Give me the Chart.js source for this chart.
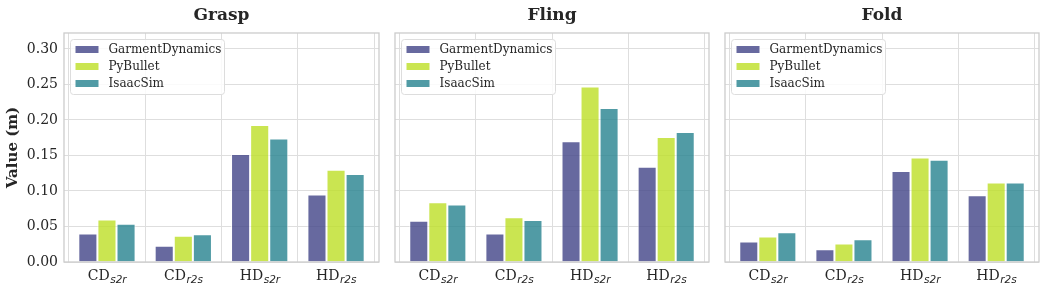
<!DOCTYPE html>
<html lang="en">
<head>
    <meta charset="UTF-8">
    <title>Simulator gap per task</title>
    <script src="https://cdn.jsdelivr.net/npm/chart.js"></script>
    <style>
        body { margin: 0; background: white; }
        #wrap { position: relative; width: 1046px; height: 289px; }
        .panel { position: absolute; top: 0; height: 289px; }
        .title {
            position: absolute;
            top: 4px;
            line-height: 20px;
            font: bold 17px "DejaVu Serif";
            color: #262626;
            transform: translateX(-50%);
            white-space: nowrap;
        }
    </style>
</head>
<body>
<div id="wrap">
    <div class="panel" style="left:0;width:384px"><canvas id="c0"></canvas></div>
    <div class="panel" style="left:390px;width:324px"><canvas id="c1"></canvas></div>
    <div class="panel" style="left:720px;width:326px"><canvas id="c2"></canvas></div>
    <div class="title" id="t0" style="left:221.5px"></div>
    <div class="title" id="t1" style="left:552px"></div>
    <div class="title" id="t2" style="left:882px"></div>
</div>

<script>
    // categories: metric + subscript
    const metrics = ['CD', 'CD', 'HD', 'HD'];
    const subs = ['s2r', 'r2s', 's2r', 'r2s'];
    const tasks = ['Grasp', 'Fling', 'Fold'];
    const simulators = ['GarmentDynamics', 'PyBullet', 'IsaacSim'];

    // values (m)
    const graspGD = [0.040, 0.023, 0.152, 0.095];
    const graspPB = [0.060, 0.037, 0.193, 0.130];
    const graspIS = [0.054, 0.039, 0.174, 0.124];

    const flingGD = [0.058, 0.040, 0.170, 0.134];
    const flingPB = [0.084, 0.063, 0.247, 0.176];
    const flingIS = [0.081, 0.059, 0.217, 0.183];

    const foldGD = [0.029, 0.018, 0.128, 0.094];
    const foldPB = [0.036, 0.026, 0.147, 0.112];
    const foldIS = [0.042, 0.032, 0.144, 0.112];

    const yTicks = [0, 0.05, 0.10, 0.15, 0.20, 0.25, 0.30];

    const colors = ['rgba(65, 68, 135, 0.8)', 'rgba(189, 223, 38, 0.8)', 'rgba(38, 130, 142, 0.8)'];
    const gridColor = '#dedede';
    const frameColor = '#cccccc';
    const textColor = '#262626';

    // frame, legend box and subscripted category labels
    const decorations = {
        id: 'decorations',
        afterDatasetsDraw(chart) {
            const ctx = chart.ctx;
            const area = chart.chartArea;
            ctx.save();
            // legend
            const lx = area.left + 6.5, ly = area.top + 6.5, lw = 154, lh = 55;
            ctx.beginPath();
            ctx.roundRect(lx, ly, lw, lh, 3);
            ctx.fillStyle = 'rgba(255,255,255,0.85)';
            ctx.fill();
            ctx.strokeStyle = '#dddddd';
            ctx.lineWidth = 1;
            ctx.stroke();
            ctx.font = '12px "DejaVu Serif"';
            ctx.textBaseline = 'middle';
            chart.data.datasets.forEach((ds, i) => {
                const cy = ly + 10 + i * 17;
                ctx.fillStyle = ds.backgroundColor;
                ctx.fillRect(lx + 5, cy - 3.5, 23, 7);
                ctx.fillStyle = textColor;
                ctx.fillText(ds.label, lx + 38, cy);
            });
            // frame
            ctx.strokeStyle = frameColor;
            ctx.lineWidth = 1.3;
            ctx.strokeRect(area.left, area.top, area.right - area.left, area.bottom - area.top);
            // x labels
            const xs = chart.scales.x;
            ctx.textBaseline = 'alphabetic';
            ctx.fillStyle = textColor;
            metrics.forEach((m, i) => {
                const x = xs.getPixelForValue(i);
                ctx.font = '14px "DejaVu Serif"';
                const wm = ctx.measureText(m).width;
                ctx.font = 'oblique 10.5px "DejaVu Sans"';
                const ws = ctx.measureText(subs[i]).width;
                const x0 = x - (wm + ws) / 2;
                ctx.font = '14px "DejaVu Serif"';
                ctx.textAlign = 'left';
                ctx.fillText(m, x0, area.bottom + 18);
                ctx.font = 'oblique 10.5px "DejaVu Sans"';
                ctx.fillText(subs[i], x0 + wm + 0.5, area.bottom + 21);
            });
            ctx.restore();
        }
    };

    function makePanel(id, values, first, rightPad) {
        const datasets = simulators.map((name, k) => ({
            label: name,
            data: values[k].map((v, i) => ({ x: i, y: v })),
            backgroundColor: colors[k],
            borderColor: 'rgba(255,255,255,0.75)',
            borderWidth: 1,
            borderSkipped: 'bottom'
        }));
        return new Chart(document.getElementById(id), {
            type: 'bar',
            data: { datasets: datasets },
            plugins: [decorations],
            options: {
                responsive: true,
                maintainAspectRatio: false,
                animation: false,
                layout: { padding: { top: 33, right: rightPad, bottom: 0, left: 0 } },
                categoryPercentage: 0.75,
                barPercentage: 1.0,
                plugins: { legend: { display: false }, tooltip: { enabled: false } },
                scales: {
                    x: {
                        type: 'linear',
                        min: -0.5625,
                        max: 3.5625,
                        offset: false,
                        ticks: { display: false, stepSize: 1 },
                        afterBuildTicks: s => { s.ticks = metrics.map((m, i) => ({ value: i })); },
                        afterFit: s => { s.height = 27; },
                        grid: { color: gridColor, drawTicks: false, lineWidth: 1 },
                        border: { display: false }
                    },
                    y: {
                        min: 0,
                        max: 0.3225,
                        ticks: {
                            display: first,
                            padding: 6,
                            color: textColor,
                            font: { family: 'DejaVu Serif', size: 14 },
                            callback: v => v.toFixed(2)
                        },
                        afterBuildTicks: s => { s.ticks = yTicks.map(v => ({ value: v })); },
                        afterFit: s => { s.width = first ? 64 : 5; },
                        title: {
                            display: first,
                            text: 'Value (m)',
                            color: textColor,
                            font: { family: 'DejaVu Serif', size: 15, weight: 'bold' },
                            padding: { top: 4, bottom: 0 }
                        },
                        grid: { color: gridColor, drawTicks: false, lineWidth: 1 },
                        border: { display: false }
                    }
                }
            }
        });
    }

    tasks.forEach((t, i) => { document.getElementById('t' + i).textContent = t; });
    makePanel('c0', [graspGD, graspPB, graspIS], true, 5);
    makePanel('c1', [flingGD, flingPB, flingIS], false, 5);
    makePanel('c2', [foldGD, foldPB, foldIS], false, 7);
</script>
</body>
</html>
